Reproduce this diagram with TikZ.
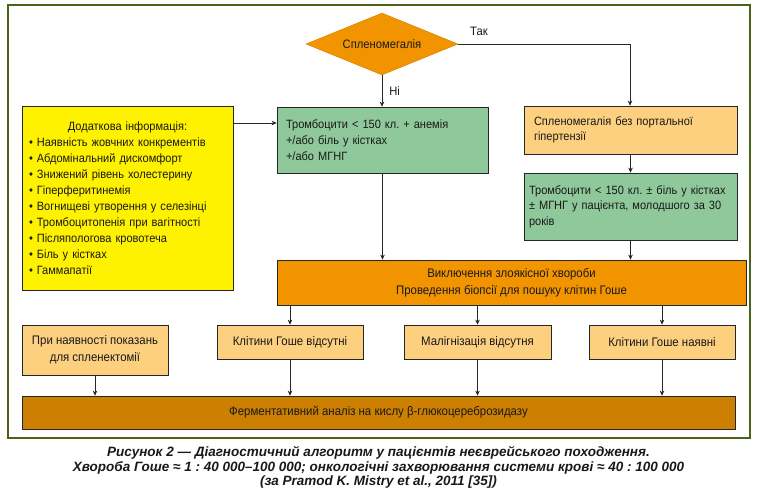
\documentclass[tikz,border=0pt]{standalone}
\usepackage{fontspec}
\setmainfont{Liberation Sans}[FakeStretch=0.92]
\newfontfamily\capfont{Liberation Sans}
\usetikzlibrary{shapes.geometric,arrows.meta}
\definecolor{frame}{RGB}{75,99,25}
\definecolor{orng}{RGB}{242,148,0}
\definecolor{ylw}{RGB}{255,242,0}
\definecolor{grn}{RGB}{143,200,155}
\definecolor{lorng}{RGB}{253,208,128}
\definecolor{brwn}{RGB}{204,127,0}
\frenchspacing
\begin{document}
\begin{tikzpicture}[x=1pt,y=-1pt,
  box/.style={draw=black!85, line width=0.7pt, inner sep=0pt,
    font=\fontsize{12}{16}\selectfont, text=black!90},
  lbox/.style={box, align=left},
  cbox/.style={box, align=center},
  bfont/.style={font=\fontsize{12.4}{17}\selectfont},
  arr/.style={-{Stealth[length=5pt,width=4.5pt]}, line width=0.7pt, black!85},
  lbl/.style={font=\fontsize{12.2}{14}\selectfont, inner sep=0pt, text=black!90},
  captext/.style={font=\capfont\bfseries\itshape\fontsize{13.5}{15}\selectfont, inner sep=0pt, text=black!90}
]
\useasboundingbox (0,0) rectangle (758,493);
\fill[white] (0,0) rectangle (758,493);
\node[draw=frame, line width=2.4pt, minimum width=742, minimum height=433, inner sep=0pt] (fr) at (379,221.5) {};

\node[diamond, fill=orng, draw=orng!85!black, line width=0.4pt, aspect=2.45,
  minimum width=152, minimum height=62, inner sep=0pt,
  font=\fontsize{12.2}{14}\selectfont, text=black!90] (spl) at (382,44) {Спленомегалія};

\node[lbox, fill=ylw, minimum height=184, text width=197, inner xsep=7] (info) at (127.5,198) {%
\makebox[\linewidth]{Додаткова інформація:}\\
• Наявність жовчних конкрементів\\
• Абдомінальний дискомфорт\\
• Знижений рівень холестерину\\
• Гіперферитинемія\\
• Вогнищеві утворення у селезінці\\
• Тромбоцитопенія при вагітності\\
• Післяпологова кровотеча\\
• Біль у кістках\\
• Гаммапатії};

\node[lbox, fill=grn, minimum height=66, text width=193, inner xsep=9] (g1) at (382.5,140) {%
Тромбоцити < 150 кл. + анемія\\
+/або біль у кістках\\
+/або МГНГ};

\node[lbox, fill=lorng, minimum height=48, text width=193, inner xsep=10,
  font=\fontsize{12}{15}\selectfont] (spl2) at (630.5,130) {%
Спленомегалія без портальної\\
гіпертензії};

\node[lbox, fill=grn, minimum height=67, text width=203, inner xsep=5,
  font=\fontsize{12}{15.5}\selectfont] (g2) at (630.5,206.5) {%
Тромбоцити < 150 кл. ± біль у кістках\\
± МГНГ у пацієнта, молодшого за 30\\
років};

\node[cbox, fill=orng, minimum width=469, minimum height=45, bfont] (excl) at (511.5,282.5) {%
Виключення злоякісної хвороби\\
Проведення біопсії для пошуку клітин Гоше};

\node[cbox, fill=lorng, minimum width=146, minimum height=50, bfont] (splen) at (95,350) {%
При наявності показань\\
для спленектомії};
\node[cbox, fill=lorng, minimum width=146, minimum height=34, bfont] (gabs) at (290,342) {Клітини Гоше відсутні};
\node[cbox, fill=lorng, minimum width=147, minimum height=34, bfont] (mal) at (477.5,342) {Малігнізація відсутня};
\node[cbox, fill=lorng, minimum width=146, minimum height=34, bfont] (gpres) at (662,342) {Клітини Гоше наявні};

\node[cbox, fill=brwn, minimum width=713, minimum height=33, bfont] (enz) at (378.5,412.5) {Ферментативний аналіз на кислу β-глюкоцереброзидазу};

% connectors
\coordinate (ya) at (0,123);
\coordinate (tk) at (630,44);
\draw[arr] (spl.south) -- (spl.south |- g1.north) node[lbl, pos=0.5, anchor=west, xshift=7pt] (ni) {Ні};
\draw[arr] (spl.east) -- (tk) -- (tk |- spl2.north);
\node[lbl, anchor=west] (tak) at (470,31) {Так};
\draw[arr] (info.east |- ya) -- (g1.west |- ya);
\draw[arr] (g1.south) -- (g1.south |- excl.north);
\draw[arr] (spl2.south) -- (g2.north);
\draw[arr] (g2.south) -- (g2.south |- excl.north);
\draw[arr] (excl.south -| gabs.north) -- (gabs.north);
\draw[arr] (excl.south -| mal.north) -- (mal.north);
\draw[arr] (excl.south -| gpres.north) -- (gpres.north);
\draw[arr] (splen.south) -- (splen.south |- enz.north);
\draw[arr] (gabs.south) -- (gabs.south |- enz.north);
\draw[arr] (mal.south) -- (mal.south |- enz.north);
\draw[arr] (gpres.south) -- (gpres.south |- enz.north);

% caption
\node[captext] (c1) at (378.5,453) {Рисунок 2 — Діагностичний алгоритм у пацієнтів неєврейського походження.};
\node[captext] (c2) at (378.5,467.5) {Хвороба Гоше ≈ 1 : 40 000–100 000; онкологічні захворювання системи крові ≈ 40 : 100 000};
\node[captext] (c3) at (378.5,482) {(за Pramod K. Mistry et al., 2011 [35])};
\end{tikzpicture}
\end{document}
